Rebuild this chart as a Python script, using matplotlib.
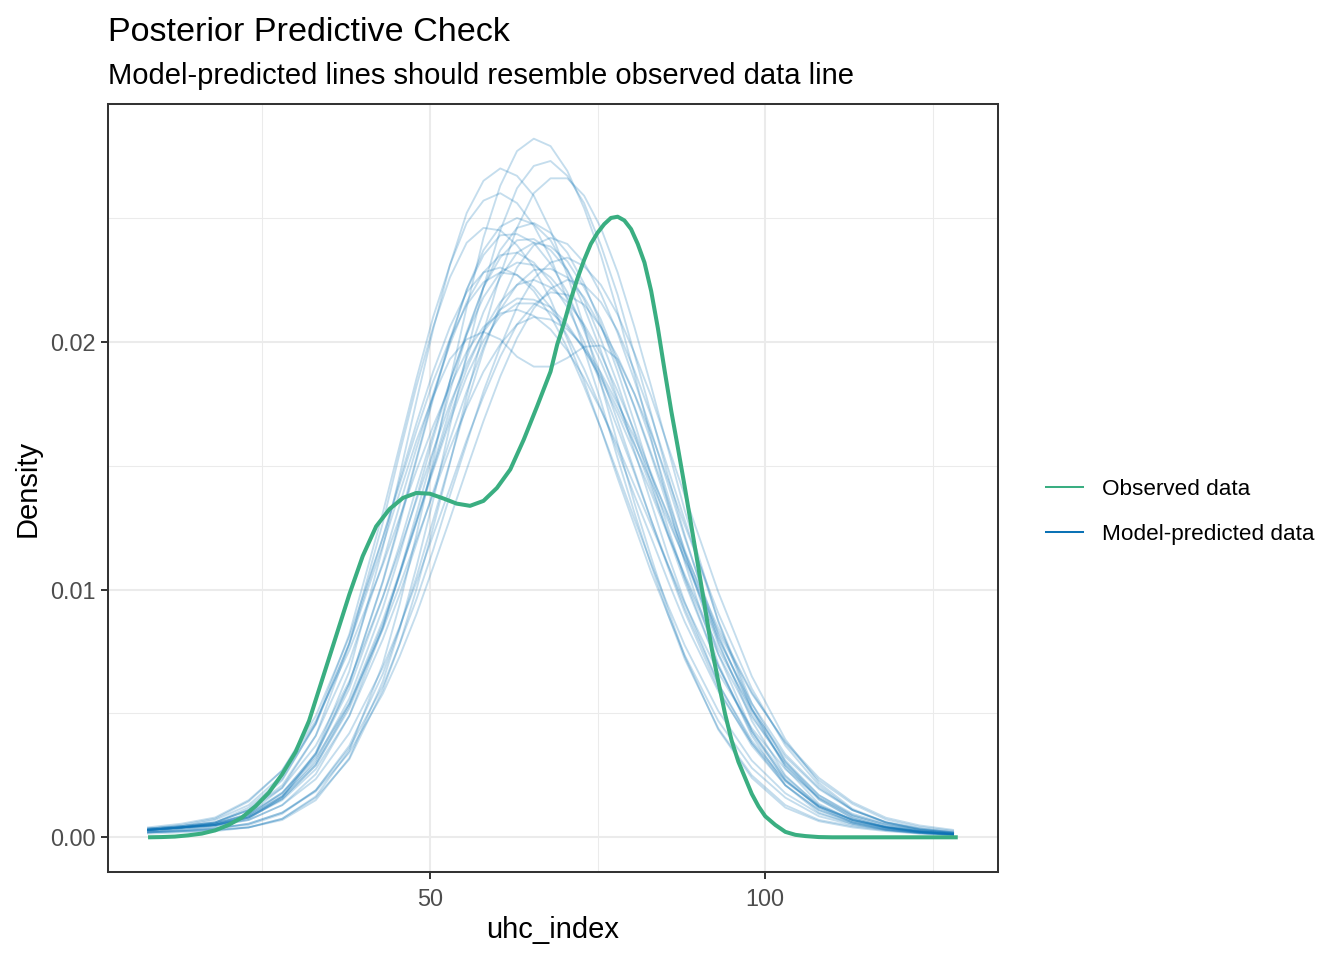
import numpy as np
import matplotlib
matplotlib.use('Agg')
import matplotlib.pyplot as plt
from matplotlib.lines import Line2D

plt.rcParams['font.family'] = ['Liberation Sans', 'DejaVu Sans']

# -----------------------
# Data (densities in units of 1e-3)
# -----------------------
obs_x = [8, 10, 12, 14, 16, 18, 20, 22, 24, 26, 28, 30, 32, 34, 36, 38, 40, 42,
         44, 46, 48, 50, 52, 54, 56, 58, 60, 62, 64, 66, 68, 69, 70, 71, 72, 73,
         74, 75, 76, 77, 78, 79, 80, 81, 82, 83, 84, 85, 86, 87, 88, 89, 90, 91,
         92, 93, 94, 95, 96, 97, 98, 99, 100, 101.5, 103, 104.5, 106, 108, 110,
         120, 128.7]
obs_dens = [0.0, 0.01, 0.03, 0.08, 0.15, 0.28, 0.5, 0.8, 1.25, 1.8, 2.55, 3.45,
            4.7, 6.4, 8.1, 9.8, 11.35, 12.55, 13.25, 13.7, 13.9, 13.87, 13.68,
            13.47, 13.38, 13.58, 14.1, 14.85, 16.05, 17.4, 18.8, 19.9, 20.75,
            21.7, 22.55, 23.3, 23.95, 24.4, 24.75, 25.0, 25.05, 24.9, 24.55,
            23.95, 23.2, 22.05, 20.55, 18.85, 17.2, 15.7, 14.15, 12.55, 10.95,
            9.3, 7.65, 6.3, 5.0, 3.9, 3.05, 2.4, 1.75, 1.25, 0.85, 0.5, 0.22,
            0.1, 0.05, 0.01, 0.0, 0.0, 0.0]

rep_x = [8, 13, 18, 23, 28, 33, 38, 43, 45.5, 48, 50.5, 53, 55.5, 58, 60.5, 63,
         65.5, 68, 70.5, 73, 75.5, 78, 80.5, 83, 85.5, 88, 93, 98, 103, 108, 113,
         118, 123, 128]

yrep_01 = [0.15, 0.2, 0.25, 0.4, 0.75, 1.65, 3.5, 7.0, 9.4, 12.2, 15.2, 18.4, 21.4, 24.2, 26.3, 27.7, 28.2, 27.9, 26.9, 25.4, 23.5, 21.2, 18.7, 16.1, 13.5, 11.1, 7.0, 4.1, 2.1, 1.0, 0.55, 0.3, 0.18, 0.1]
yrep_02 = [0.2, 0.25, 0.3, 0.4, 0.7, 1.5, 3.2, 6.3, 8.4, 10.9, 13.6, 16.6, 19.5, 22.2, 24.5, 26.2, 27.1, 27.3, 26.7, 25.6, 23.9, 21.9, 19.5, 17.1, 14.6, 12.2, 7.9, 4.7, 2.5, 1.25, 0.7, 0.4, 0.22, 0.12]
yrep_03 = [0.25, 0.35, 0.45, 0.75, 1.6, 3.4, 6.7, 11.7, 14.6, 17.6, 20.5, 23.1, 25.2, 26.5, 27.0, 26.7, 25.9, 24.5, 22.7, 20.6, 18.3, 15.9, 13.5, 11.3, 9.2, 7.3, 4.35, 2.4, 1.2, 0.65, 0.4, 0.25, 0.15, 0.08]
yrep_04 = [0.2, 0.25, 0.3, 0.4, 0.75, 1.6, 3.15, 5.95, 7.8, 10.0, 12.5, 15.1, 17.8, 20.4, 22.7, 24.6, 26.0, 26.6, 26.6, 25.9, 24.6, 22.8, 20.6, 18.2, 15.7, 13.2, 8.7, 5.2, 2.8, 1.35, 0.7, 0.4, 0.22, 0.12]
yrep_05 = [0.3, 0.4, 0.6, 1.1, 2.3, 4.6, 8.2, 13.1, 15.8, 18.5, 21.0, 23.1, 24.8, 25.7, 26.0, 25.6, 24.7, 23.4, 21.7, 19.7, 17.6, 15.3, 13.1, 11.0, 9.0, 7.2, 4.4, 2.5, 1.3, 0.7, 0.45, 0.28, 0.16, 0.1]
yrep_06 = [0.3, 0.4, 0.55, 0.95, 2.0, 4.1, 7.8, 12.7, 15.5, 18.2, 20.6, 22.6, 24.0, 24.6, 24.5, 23.9, 23.0, 21.7, 20.1, 18.4, 16.5, 14.5, 12.6, 10.7, 9.0, 7.35, 4.7, 2.8, 1.6, 0.85, 0.5, 0.3, 0.18, 0.1]
yrep_07 = [0.3, 0.4, 0.55, 0.9, 1.75, 3.4, 6.2, 10.3, 12.65, 15.2, 17.7, 20.0, 22.1, 23.7, 24.65, 25.0, 24.75, 24.1, 22.9, 21.4, 19.65, 17.7, 15.6, 13.5, 11.4, 9.5, 6.2, 3.8, 2.1, 1.1, 0.6, 0.35, 0.2, 0.12]
yrep_08 = [0.3, 0.4, 0.5, 0.85, 1.65, 3.1, 5.6, 9.25, 11.4, 13.7, 16.1, 18.4, 20.4, 22.2, 23.4, 24.1, 24.15, 23.7, 22.9, 21.7, 20.1, 18.3, 16.3, 14.3, 12.2, 10.3, 6.9, 4.3, 2.45, 1.3, 0.7, 0.4, 0.22, 0.13]
yrep_09 = [0.35, 0.45, 0.6, 1.1, 2.1, 4.1, 7.1, 11.1, 13.4, 15.7, 17.9, 19.9, 21.6, 22.8, 23.5, 23.6, 23.2, 22.4, 21.4, 20.0, 18.3, 16.5, 14.7, 12.8, 11.0, 9.25, 6.2, 3.9, 2.3, 1.25, 0.7, 0.42, 0.25, 0.15]
yrep_10 = [0.3, 0.4, 0.5, 0.8, 1.55, 2.9, 5.2, 8.5, 10.6, 12.7, 15.0, 17.3, 19.35, 21.2, 22.6, 23.6, 24.0, 23.85, 23.25, 22.2, 20.9, 19.2, 17.35, 15.4, 13.35, 11.4, 7.8, 4.95, 2.9, 1.6, 0.85, 0.45, 0.25, 0.15]
yrep_11 = [0.3, 0.4, 0.55, 0.9, 1.8, 3.35, 6.0, 9.7, 11.8, 14.1, 16.3, 18.4, 20.3, 21.8, 22.8, 23.2, 23.1, 22.6, 21.8, 20.6, 19.2, 17.6, 15.9, 14.1, 12.3, 10.5, 7.4, 4.85, 3.0, 1.7, 0.95, 0.55, 0.3, 0.18]
yrep_12 = [0.35, 0.5, 0.75, 1.45, 2.7, 4.9, 8.1, 12.1, 14.25, 16.4, 18.4, 20.1, 21.5, 22.4, 22.8, 22.7, 22.2, 21.4, 20.25, 18.9, 17.3, 15.6, 13.8, 12.1, 10.35, 8.7, 5.9, 3.8, 2.25, 1.25, 0.72, 0.42, 0.25, 0.15]
yrep_13 = [0.3, 0.4, 0.5, 0.8, 1.5, 2.75, 4.9, 8.0, 9.8, 11.85, 13.95, 16.05, 18.0, 19.8, 21.3, 22.3, 22.9, 22.95, 22.6, 21.8, 20.6, 19.1, 17.4, 15.5, 13.6, 11.6, 8.1, 5.2, 3.1, 1.7, 0.9, 0.5, 0.28, 0.16]
yrep_14 = [0.3, 0.4, 0.5, 0.85, 1.65, 3.0, 5.4, 8.75, 10.7, 12.8, 14.9, 17.0, 18.9, 20.45, 21.6, 22.3, 22.5, 22.2, 21.6, 20.7, 19.5, 18.0, 16.4, 14.7, 12.95, 11.2, 8.0, 5.4, 3.35, 2.0, 1.1, 0.6, 0.35, 0.2]
yrep_15 = [0.25, 0.35, 0.45, 0.7, 1.3, 2.35, 4.2, 6.85, 8.5, 10.3, 12.2, 14.1, 16.05, 17.8, 19.4, 20.7, 21.5, 22.0, 21.9, 21.5, 20.6, 19.4, 17.9, 16.3, 14.45, 12.6, 9.05, 6.0, 3.7, 2.1, 1.1, 0.6, 0.33, 0.2]
yrep_16 = [0.35, 0.45, 0.6, 1.1, 2.0, 3.7, 6.3, 9.7, 11.6, 13.6, 15.6, 17.5, 19.1, 20.4, 21.3, 21.75, 21.7, 21.4, 20.7, 19.7, 18.5, 17.1, 15.5, 13.9, 12.2, 10.6, 7.6, 5.15, 3.25, 1.95, 1.1, 0.62, 0.36, 0.22]
yrep_17 = [0.4, 0.55, 0.8, 1.5, 2.7, 4.7, 7.55, 11.0, 12.9, 14.8, 16.6, 18.2, 19.6, 20.6, 21.15, 21.3, 21.05, 20.5, 19.65, 18.55, 17.25, 15.8, 14.2, 12.6, 11.0, 9.45, 6.65, 4.4, 2.75, 1.6, 0.88, 0.52, 0.3, 0.18]
yrep_18 = [0.2, 0.25, 0.35, 0.55, 1.0, 1.9, 3.6, 6.1, 7.8, 9.6, 11.6, 13.8, 15.9, 18.0, 19.8, 21.4, 22.55, 23.2, 23.4, 23.05, 22.3, 21.1, 19.55, 17.8, 15.8, 13.8, 9.9, 6.5, 3.95, 2.2, 1.15, 0.6, 0.32, 0.18]
yrep_19 = [0.3, 0.45, 0.7, 1.3, 2.5, 4.6, 7.8, 11.8, 13.9, 16.0, 17.8, 19.3, 20.1, 20.4, 20.1, 19.4, 19.0, 19.0, 19.35, 19.8, 19.85, 19.3, 17.9, 16.0, 13.8, 11.5, 7.4, 4.3, 2.3, 1.2, 0.6, 0.32, 0.18, 0.1]
yrep_20 = [0.3, 0.4, 0.55, 0.95, 1.8, 3.2, 5.4, 8.4, 10.15, 12.0, 13.85, 15.7, 17.35, 18.8, 19.9, 20.7, 21.0, 20.9, 20.5, 19.8, 18.75, 17.5, 16.15, 14.6, 13.05, 11.5, 8.45, 5.85, 3.8, 2.3, 1.35, 0.72, 0.42, 0.26]
yrep_21 = [0.28, 0.38, 0.5, 0.7, 1.3, 2.55, 4.9, 8.45, 10.65, 13.05, 15.5, 18.0, 20.3, 22.2, 23.7, 24.6, 24.8, 24.4, 23.6, 22.35, 20.7, 18.8, 16.75, 14.6, 12.5, 10.45, 6.9, 4.2, 2.35, 1.2, 0.65, 0.38, 0.22, 0.13]
yrep_22 = [0.3, 0.4, 0.5, 0.8, 1.65, 3.3, 6.2, 10.35, 12.8, 15.3, 17.8, 20.1, 22.1, 23.5, 24.3, 24.35, 24.0, 23.15, 22.0, 20.45, 18.7, 16.8, 14.8, 12.8, 10.9, 9.1, 6.0, 3.7, 2.1, 1.1, 0.62, 0.38, 0.22, 0.13]
yrep_23 = [0.22, 0.3, 0.38, 0.5, 0.95, 1.9, 3.7, 6.6, 8.45, 10.5, 12.8, 15.15, 17.5, 19.65, 21.5, 23.0, 23.9, 24.2, 23.95, 23.2, 21.95, 20.35, 18.45, 16.4, 14.25, 12.1, 8.2, 5.1, 2.9, 1.52, 0.78, 0.42, 0.24, 0.14]
yrep_24 = [0.35, 0.45, 0.6, 1.2, 2.36, 4.55, 7.85, 12.1, 14.4, 16.7, 18.8, 20.6, 22.0, 22.8, 23.0, 22.7, 22.05, 21.05, 19.75, 18.2, 16.5, 14.7, 12.85, 11.05, 9.35, 7.75, 5.1, 3.1, 1.78, 0.95, 0.55, 0.32, 0.2, 0.12]
yrep_25 = [0.2, 0.28, 0.36, 0.55, 1.0, 1.85, 3.42, 5.8, 7.3, 9.0, 10.9, 12.85, 14.85, 16.8, 18.6, 20.15, 21.35, 22.15, 22.5, 22.3, 21.6, 20.45, 18.85, 17.0, 14.9, 12.8, 8.75, 5.4, 3.05, 1.55, 0.78, 0.4, 0.22, 0.12]
yrep_26 = [0.3, 0.38, 0.48, 0.8, 1.55, 2.92, 5.3, 8.6, 10.6, 12.7, 14.8, 16.8, 18.6, 20.05, 21.05, 21.55, 21.55, 21.2, 20.6, 19.7, 18.6, 17.3, 15.85, 14.35, 12.8, 11.25, 8.3, 5.8, 3.85, 2.4, 1.42, 0.79, 0.48, 0.3]

yrep_all = [yrep_01, yrep_02, yrep_03, yrep_04, yrep_05, yrep_06, yrep_07,
            yrep_08, yrep_09, yrep_10, yrep_11, yrep_12, yrep_13, yrep_14,
            yrep_15, yrep_16, yrep_17, yrep_18, yrep_19, yrep_20, yrep_21,
            yrep_22, yrep_23, yrep_24, yrep_25, yrep_26]

OBS_COLOR = '#3AAE81'
REP_COLOR = '#0B72B5'

# -----------------------
# Figure
# -----------------------
W, H = 1344, 960
fig = plt.figure(figsize=(W / 100, H / 100), dpi=100)
ax = fig.add_axes([108 / W, 1 - 872 / H, (998 - 108) / W, (872 - 104) / H])

for yrep in yrep_all:
    ax.plot(rep_x, np.array(yrep) / 1000, color=REP_COLOR, alpha=0.24, lw=1.35,
            solid_joinstyle='round', zorder=3)

ax.plot(obs_x, np.array(obs_dens) / 1000, color=OBS_COLOR, lw=2.9,
        solid_joinstyle='round', solid_capstyle='butt', zorder=4)

ax.set_xlim(2.03, 134.7)
ax.set_ylim(-0.0014, 0.0296)

# theme_bw-like styling
ax.set_xticks([50, 100])
ax.set_xticklabels(['50', '100'])
ax.set_yticks([0.0, 0.01, 0.02])
ax.set_yticklabels(['0.00', '0.01', '0.02'])
ax.set_xticks([25, 75, 125], minor=True)
ax.set_yticks([0.005, 0.015, 0.025], minor=True)
ax.grid(which='major', color='#EBEBEB', lw=1.45, zorder=0)
ax.grid(which='minor', color='#EBEBEB', lw=0.75, zorder=0)
ax.set_axisbelow(True)
ax.tick_params(which='major', length=5, width=1.4, color='#333333',
               labelsize=16.9, labelcolor='#4D4D4D')
ax.tick_params(axis='y', which='major', pad=4)
ax.tick_params(axis='x', which='major', pad=6.8)
ax.tick_params(which='minor', length=0)
for s in ax.spines.values():
    s.set_color('#333333')
    s.set_linewidth(1.45)

# titles and axis labels
fig.text(108 / W, 1 - 41 / H, 'Posterior Predictive Check', fontsize=24.6,
         va='baseline', ha='left')
fig.text(108 / W, 1 - 84 / H, 'Model-predicted lines should resemble observed data line',
         fontsize=21, va='baseline', ha='left')
fig.text(28 / W, 1 - 488 / H, 'Density', fontsize=21, rotation=90,
         ha='center', va='center')
fig.text(553 / W, 1 - 930 / H, 'uhc_index', fontsize=21, ha='center', va='center')

# legend
handles = [Line2D([], [], color=OBS_COLOR, lw=1.45),
           Line2D([], [], color=REP_COLOR, lw=1.45)]
fig.legend(handles, ['Observed data', 'Model-predicted data'],
           loc='center left', bbox_to_anchor=(1046 / W, 1 - 512 / H),
           frameon=False, fontsize=16.2, handlelength=1.64, handletextpad=0.83,
           labelspacing=1.05, borderpad=0, borderaxespad=0)

fig.savefig('out.png', dpi=100)
